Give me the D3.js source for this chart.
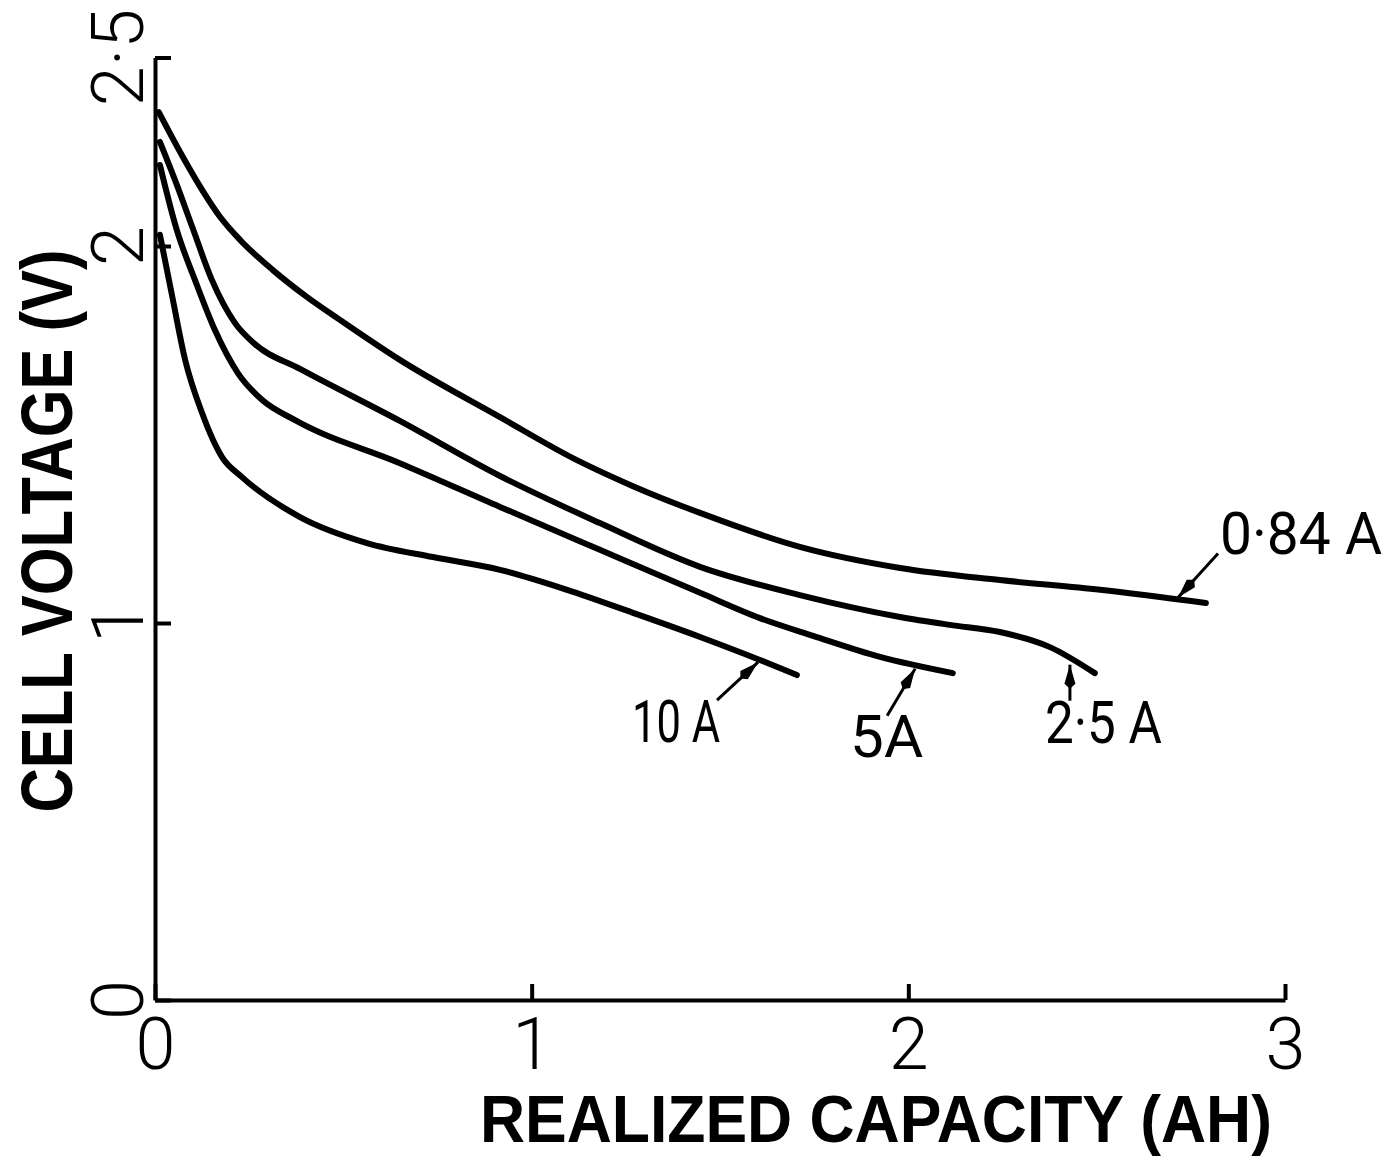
<!DOCTYPE html>
<html>
<head>
<meta charset="utf-8">
<script src="https://cdn.jsdelivr.net/npm/d3@7/dist/d3.min.js"></script>
<style>
  html, body { margin: 0; padding: 0; background: #fff; }
  svg { display: block; }
</style>
</head>
<body>
<script>
// ---------- data ----------
const xTicks = [0, 1, 2, 3];
const yTicks = [0, 1, 2, 2.5];
const xTitle = "REALIZED CAPACITY (AH)";
const yTitle = "CELL VOLTAGE (V)";

const seriesNames = ["0·84 A", "2·5 A", "5A", "10 A"];

const cap084 = [0.010, 0.074, 0.125, 0.173, 0.226, 0.313, 0.403, 0.491, 0.650, 0.916, 1.120, 1.269, 1.447, 1.712, 1.978, 2.243, 2.509, 2.790];
const volt084 = [2.355, 2.236, 2.149, 2.077, 2.016, 1.936, 1.865, 1.804, 1.698, 1.546, 1.432, 1.363, 1.292, 1.202, 1.146, 1.114, 1.088, 1.053];

const cap25 = [0.013, 0.058, 0.098, 0.151, 0.212, 0.265, 0.385, 0.650, 0.916, 1.181, 1.447, 1.712, 1.978, 2.110, 2.243, 2.376, 2.495];
const volt25 = [2.276, 2.162, 2.053, 1.910, 1.796, 1.740, 1.674, 1.536, 1.390, 1.265, 1.149, 1.074, 1.016, 0.995, 0.976, 0.936, 0.867];

const cap5 = [0.013, 0.058, 0.106, 0.159, 0.220, 0.284, 0.372, 0.650, 0.916, 1.181, 1.447, 1.606, 1.747, 1.925, 2.118];
const volt5 = [2.215, 2.042, 1.910, 1.777, 1.663, 1.592, 1.538, 1.424, 1.308, 1.194, 1.080, 1.013, 0.966, 0.910, 0.867];

const cap10 = [0.013, 0.045, 0.080, 0.125, 0.178, 0.231, 0.385, 0.563, 0.738, 0.916, 1.094, 1.269, 1.447, 1.606, 1.704];
const volt10 = [2.030, 1.870, 1.698, 1.557, 1.440, 1.387, 1.281, 1.212, 1.175, 1.141, 1.088, 1.027, 0.963, 0.902, 0.862];

// capacity at which each label's arrow points onto its curve
const arrowAt = [2.716, 2.429, 2.018, 1.601];

// ---------- layout ----------
const W = 1393, H = 1156;
const x = d3.scaleLinear().domain([0, 3]).range([155, 1285]);
const y = d3.scaleLinear().domain([0, 2.5]).range([1000, 57.5]);

// arrow tail offset (px), label offset from tip (px), label width
const arrowLayout = [
  { tail: [40, -44], label: [42, -44], tipDy: -2, len: 162 },
  { tail: [0, 36], label: [-25, 78], tipDy: 6, len: 117 },
  { tail: [-28, 47], label: [-65, 88], tipDy: 4, len: 73 },
  { tail: [-41, 38], label: [-126, 80], tipDy: 3, len: 88 }
];

const svg = d3.select("body").append("svg")
  .attr("width", W).attr("height", H)
  .attr("viewBox", `0 0 ${W} ${H}`);

svg.append("rect").attr("width", W).attr("height", H).attr("fill", "#fff");

const defs = svg.append("defs");
defs.append("marker")
  .attr("id", "arrowhead")
  .attr("markerUnits", "userSpaceOnUse")
  .attr("viewBox", "0 -7 26 14")
  .attr("markerWidth", 26).attr("markerHeight", 14)
  .attr("refX", 24).attr("refY", 0)
  .attr("orient", "auto")
  .append("path")
  .attr("d", "M0,0 L5,-5.5 L24,0 L5,5.5 Z")
  .attr("fill", "#000");

const tickFont = "Roboto, 'Open Sans', 'DejaVu Sans', sans-serif";
const titleFont = "'Liberation Sans', Arial, 'DejaVu Sans', sans-serif";

// ---------- axes ----------
const xAxis = d3.axisBottom(x)
  .tickValues(xTicks)
  .tickSizeInner(-16)
  .tickSizeOuter(0)
  .tickPadding(18)
  .tickFormat(d => String(d).replace(".", "·"));

const gx = svg.append("g")
  .attr("transform", `translate(0,${y(0)})`)
  .call(xAxis);
gx.select(".domain").attr("stroke", "#000").attr("stroke-width", 4);
gx.selectAll(".tick line").attr("stroke", "#000").attr("stroke-width", 4);
gx.selectAll(".tick text")
  .attr("fill", "#000")
  .style("font-family", tickFont)
  .style("font-weight", 300)
  .style("font-size", "72px");

const yAxis = d3.axisLeft(y)
  .tickValues(yTicks)
  .tickSizeInner(-16)
  .tickSizeOuter(0)
  .tickFormat("");

const gy = svg.append("g")
  .attr("transform", `translate(${x(0)},0)`)
  .call(yAxis);
gy.select(".domain").attr("stroke", "#000").attr("stroke-width", 4);
gy.selectAll(".tick line").attr("stroke", "#000").attr("stroke-width", 4);

// rotated y tick labels
svg.append("g").selectAll("text")
  .data(yTicks)
  .join("text")
  .attr("transform", d => `translate(${x(0) - 12},${y(d)}) rotate(-90)`)
  .attr("text-anchor", "middle")
  .attr("fill", "#000")
  .style("font-family", tickFont)
  .style("font-weight", 300)
  .style("font-size", "72px")
  .text(d => String(d).replace(".", "·"));

// axis titles
svg.append("text")
  .attr("x", 876).attr("y", 1142)
  .attr("text-anchor", "middle")
  .attr("textLength", 792)
  .attr("lengthAdjust", "spacingAndGlyphs")
  .style("font-family", titleFont)
  .style("font-weight", 700)
  .style("font-size", "66px")
  .attr("fill", "#000")
  .text(xTitle);

svg.append("text")
  .attr("transform", `translate(72,531) rotate(-90)`)
  .attr("text-anchor", "middle")
  .attr("textLength", 563)
  .attr("lengthAdjust", "spacingAndGlyphs")
  .style("font-family", titleFont)
  .style("font-weight", 700)
  .style("font-size", "72px")
  .attr("fill", "#000")
  .text(yTitle);

// ---------- curves ----------
const series = [
  { name: seriesNames[0], cap: cap084, volt: volt084 },
  { name: seriesNames[1], cap: cap25, volt: volt25 },
  { name: seriesNames[2], cap: cap5, volt: volt5 },
  { name: seriesNames[3], cap: cap10, volt: volt10 }
];

const line = d3.line()
  .x(d => x(d[0]))
  .y(d => y(d[1]))
  .curve(d3.curveMonotoneX);

svg.append("g").selectAll("path")
  .data(series)
  .join("path")
  .attr("d", s => line(s.cap.map((c, i) => [c, s.volt[i]])))
  .attr("fill", "none")
  .attr("stroke", "#000")
  .attr("stroke-width", 6)
  .attr("stroke-linecap", "round")
  .attr("stroke-linejoin", "round");

// ---------- labels with arrows ----------
function voltAt(s, c) {
  const i = d3.bisectLeft(s.cap, c);
  if (i <= 0) return s.volt[0];
  if (i >= s.cap.length) return s.volt[s.volt.length - 1];
  const t = (c - s.cap[i - 1]) / (s.cap[i] - s.cap[i - 1]);
  return s.volt[i - 1] + t * (s.volt[i] - s.volt[i - 1]);
}

const ann = svg.append("g");
series.forEach((s, k) => {
  const lay = arrowLayout[k];
  const tx = x(arrowAt[k]);
  const ty = y(voltAt(s, arrowAt[k])) + lay.tipDy;
  ann.append("line")
    .attr("x1", tx + lay.tail[0]).attr("y1", ty + lay.tail[1])
    .attr("x2", tx).attr("y2", ty)
    .attr("stroke", "#000")
    .attr("stroke-width", 3)
    .attr("marker-end", "url(#arrowhead)");
  ann.append("text")
    .attr("x", tx + lay.label[0]).attr("y", ty + lay.label[1])
    .attr("textLength", lay.len)
    .attr("lengthAdjust", "spacingAndGlyphs")
    .attr("fill", "#000")
    .style("font-family", tickFont)
    .style("font-weight", 400)
    .style("font-size", "60px")
    .text(s.name);
});
</script>
</body>
</html>
